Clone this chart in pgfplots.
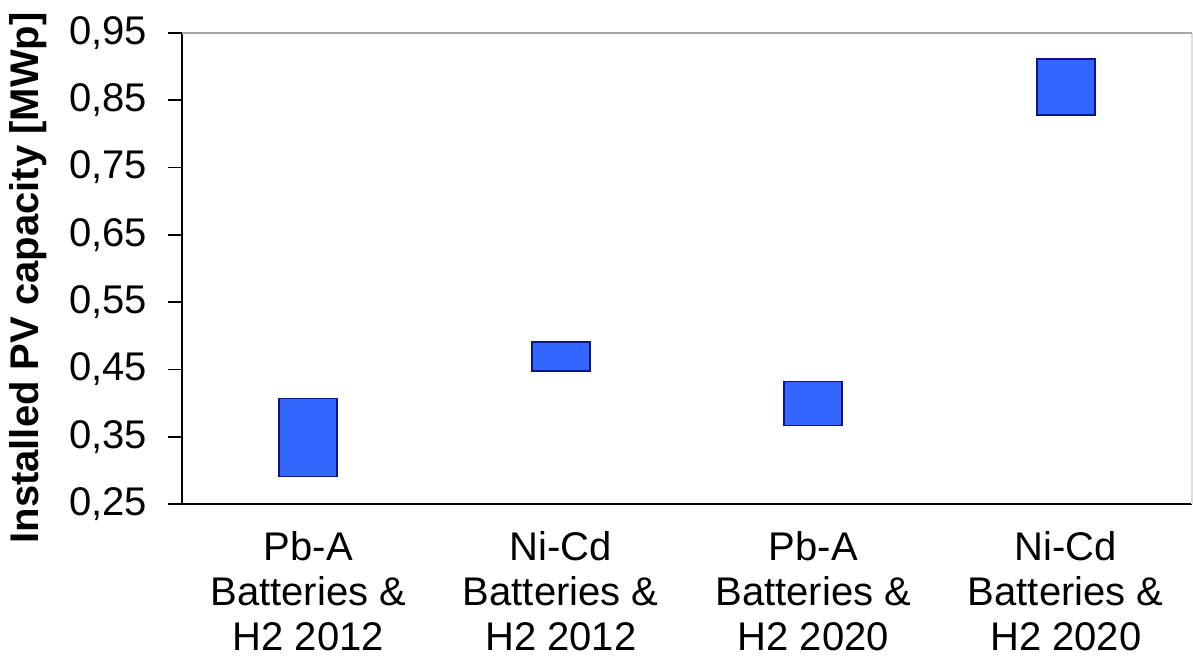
\documentclass[border=0pt]{standalone}
\usepackage{pgfplots}
\pgfplotsset{compat=1.18}
\usepackage{pgfplotstable}
\usepackage{fontspec}
\setmainfont{Liberation Sans}
\definecolor{barfill}{HTML}{3366FF}
\definecolor{bardraw}{HTML}{12128C}
\pgfplotstableread{
x low high
1 0.291 0.4065
2 0.448 0.4905
3 0.3665 0.432
4 0.8285 0.911
}\ranges
\begin{document}
\begin{tikzpicture}
\begin{axis}[
  scale only axis, width=505pt, height=235.5pt,
  xmin=0.5, xmax=4.5, ymin=0.25, ymax=0.95,
  clip=false,
  axis x line*=bottom, axis y line*=left,
  axis line style={-, line width=0.8pt, black},
  tick align=outside,
  major tick length=7pt, minor tick length=4.5pt,
  ytick={0.25,0.35,0.45,0.55,0.65,0.75,0.85,0.95},
  yticklabels={{0,25},{0,35},{0,45},{0,55},{0,65},{0,75},{0,85},{0,95}},
  y tick style={black, line width=0.8pt},
  yticklabel style={font=\fontsize{20}{22}\selectfont, xshift=-7pt},
  xtick={1,2,3,4},
  xticklabels={{Pb-A\\Batteries \&\\H2 2012},{Ni-Cd\\Batteries \&\\H2 2012},{Pb-A\\Batteries \&\\H2 2020},{Ni-Cd\\Batteries \&\\H2 2020}},
  x tick style={draw=none},
  minor xtick={0.5,1.5,2.5,3.5,4.5},
  minor x tick style={black, line width=0.8pt},
  xticklabel style={font=\fontsize{20}{22.5}\selectfont, align=center, yshift=-3pt},
  ylabel={\textbf{Installed PV capacity [MWp]}},
  ylabel style={font=\fontsize{20}{22}\selectfont, at={(rel axis cs:0,0.48)}, anchor=center, yshift=77pt},
  ybar stacked, bar width=29pt,
]
\addplot[draw=none, fill=none] table[x=x, y=low] {\ranges};
\addplot[fill=barfill, draw=bardraw, line width=0.8pt] table[x=x, y expr=\thisrow{high}-\thisrow{low}] {\ranges};
\draw[gray!70, line width=0.9pt] (rel axis cs:0,1) -- (rel axis cs:1,1);
\draw[gray!25, line width=0.6pt] (rel axis cs:1,0) -- (rel axis cs:1,1);
\end{axis}
\path (current axis.south west) ++(-91pt,-79pt) rectangle ++(596.5pt,331pt);
\end{tikzpicture}
\end{document}
